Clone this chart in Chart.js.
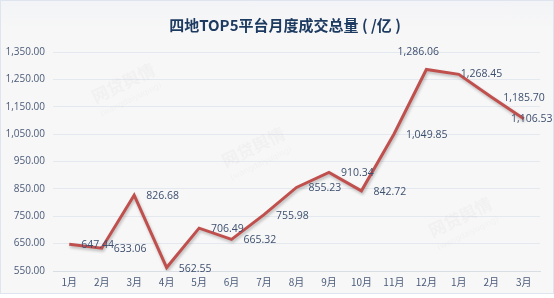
<!DOCTYPE html>
<html>
<head>
<meta charset="utf-8">
<script src="https://cdn.jsdelivr.net/npm/chart.js@4/dist/chart.umd.min.js"></script>
<style>
  html, body { margin: 0; padding: 0; background: #fff; }
  #wrap {
    width: 552px; height: 292px; border: 1px solid #dfe5ef;
    background: linear-gradient(#f3f4f7, #f7f7f7 30px);
  }
  canvas { display: block; }
</style>
</head>
<body>
<div id="wrap"><canvas id="c" width="552" height="292"></canvas></div>
<script>
// 四地TOP5平台月度成交总量 (亿)
const titleText = "四地TOP5平台月度成交总量 ( /亿 )";
const months = ["1月", "2月", "3月", "4月", "5月", "6月", "7月", "8月", "9月", "10月", "11月", "12月", "1月", "2月", "3月"];
const volume = [647.44, 633.06, 826.68, 562.55, 706.49, 665.32, 755.98, 855.23, 910.34, 842.72, 1049.85, 1286.06, 1268.45, 1185.70, 1106.53];
const yTicks = [550, 650, 750, 850, 950, 1050, 1150, 1250, 1350];
const watermark = ["网贷舆情", "(wangdaiyuqing)"];

// where each value label sits relative to its point
const labelPlace = ["right", "right", "right", "right", "right", "right", "right", "right", "right", "right", "right", "top", "near", "right", "center"];

const fmt = (v) => v.toLocaleString("en-US", { minimumFractionDigits: 2, maximumFractionDigits: 2 });

const titleDraw = {
  id: "titleDraw",
  afterDraw(chart) {
    const ctx = chart.ctx;
    ctx.save();
    ctx.font = "bold 15px 'Noto Sans CJK SC', sans-serif";
    ctx.fillStyle = "#1d3a60";
    ctx.textAlign = "center";
    ctx.textBaseline = "middle";
    ctx.fillText(titleText, 284, 24);
    ctx.restore();
  },
};

const valueLabels = {
  id: "valueLabels",
  afterDatasetsDraw(chart) {
    const ctx = chart.ctx;
    const meta = chart.getDatasetMeta(0);
    ctx.save();
    ctx.font = "10.5px 'Open Sans', 'DejaVu Sans', sans-serif";
    ctx.fillStyle = "#3d4f6e";
    ctx.textBaseline = "middle";
    meta.data.forEach((pt, i) => {
      const txt = fmt(volume[i]);
      const p = labelPlace[i];
      if (p === "top") {
        ctx.textAlign = "center";
        ctx.fillText(txt, pt.x - 8, pt.y - 17);
      } else if (p === "center") {
        ctx.textAlign = "center";
        ctx.fillText(txt, pt.x + 8, pt.y);
      } else if (p === "near") {
        ctx.textAlign = "left";
        ctx.fillText(txt, pt.x + 2, pt.y);
      } else {
        ctx.textAlign = "left";
        ctx.fillText(txt, pt.x + 12, pt.y + 1);
      }
    });
    ctx.restore();
  },
};

const waterMark = {
  id: "waterMark",
  beforeDatasetsDraw(chart) {
    const ctx = chart.ctx;
    const spots = [[125, 88], [255, 152], [462, 222]];
    ctx.save();
    ctx.fillStyle = "rgba(180,180,190,0.08)";
    ctx.textAlign = "center";
    spots.forEach(([x, y]) => {
      ctx.save();
      ctx.translate(x, y);
      ctx.rotate(-0.45);
      ctx.font = "bold 17px 'Noto Sans CJK SC', sans-serif";
      ctx.fillText(watermark[0], 0, 0);
      ctx.font = "8px 'DejaVu Sans', sans-serif";
      ctx.fillText(watermark[1], 0, 14);
      ctx.restore();
    });
    ctx.restore();
  },
};

const lineShadow = {
  id: "lineShadow",
  beforeDatasetDraw(chart) {
    const ctx = chart.ctx;
    ctx.save();
    ctx.shadowColor = "rgba(0,0,0,0.25)";
    ctx.shadowBlur = 3;
    ctx.shadowOffsetX = 1;
    ctx.shadowOffsetY = 2;
  },
  afterDatasetDraw(chart) {
    chart.ctx.restore();
  },
};

new Chart(document.getElementById("c"), {
  type: "line",
  data: {
    labels: months,
    datasets: [{
      data: volume,
      borderColor: "#c0504d",
      borderWidth: 3,
      pointRadius: 0,
      tension: 0,
    }],
  },
  options: {
    responsive: false,
    animation: false,
    layout: { padding: { left: 4, right: 13, top: 51, bottom: 0 } },
    plugins: {
      legend: { display: false },
      tooltip: { enabled: false },
      title: { display: false },
    },
    scales: {
      x: {
        offset: true,
        grid: { display: false, drawTicks: false },
        border: { color: "#d9dde4" },
        ticks: { color: "#4a5a78", font: { family: "'Noto Sans CJK SC', sans-serif", size: 10 }, padding: 5, maxRotation: 0, autoSkip: false },
      },
      y: {
        min: 550,
        max: 1350,
        afterBuildTicks(axis) { axis.ticks = yTicks.map((v) => ({ value: v })); },
        afterFit(axis) { axis.width = 48; },
        grid: { color: "#e4e8ef", drawTicks: false },
        border: { display: false },
        ticks: {
          color: "#4a5a78",
          font: { family: "'Open Sans', sans-serif", size: 10 },
          padding: 8,
          callback: (v) => fmt(v),
        },
      },
    },
  },
  plugins: [waterMark, lineShadow, valueLabels, titleDraw],
});
</script>
</body>
</html>
